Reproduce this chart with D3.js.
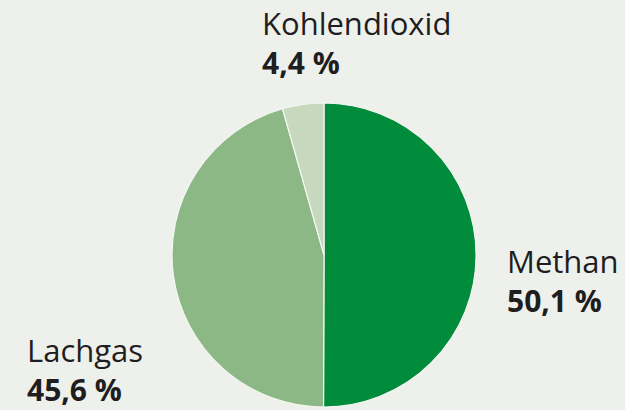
<!DOCTYPE html>
<html>
<head>
<meta charset="utf-8">
<script src="https://cdn.jsdelivr.net/npm/d3@7"></script>
<style>
  html, body { margin: 0; padding: 0; background: #eef0ec; }
  svg { display: block; }
  text { font-family: "Open Sans", "Noto Sans", sans-serif; fill: #1e1e1e; }
</style>
</head>
<body>
<svg id="pieVis" width="625" height="410"></svg>
<script>
// data
const gases = ['Methan', 'Lachgas', 'Kohlendioxid'];
const shares = [50.1, 45.6, 4.4];
const shareLabels = ['50,1 %', '45,6 %', '4,4 %'];
const colors = ['#008c3a', '#8bb884', '#c6d9bf'];

// label anchors (left edge of text, baseline of first line)
const labelPos = {
  'Methan': [507, 273],
  'Lachgas': [27, 362],
  'Kohlendioxid': [262, 35]
};

const svg = d3.select('svg#pieVis');
const cx = 324, cy = 255, radius = 152;

const pie = d3.pie()
    .sort(null)
    .value(d => d.value);

const arc = d3.arc()
    .innerRadius(0)
    .outerRadius(radius);

const data = gases.map((g, i) => ({ name: g, value: shares[i], label: shareLabels[i] }));
const colorScale = d3.scaleOrdinal().domain(gases).range(colors);

const pieG = svg.append('g')
    .attr('transform', `translate(${cx},${cy})`);

pieG.selectAll('path')
    .data(pie(data))
    .enter()
    .append('path')
    .attr('d', arc)
    .attr('fill', d => colorScale(d.data.name))
    .attr('stroke', '#f4f6f2')
    .attr('stroke-width', 1.2);

const labelG = svg.append('g').attr('class', 'labels');

const labels = labelG.selectAll('g')
    .data(data)
    .enter()
    .append('g')
    .attr('transform', d => `translate(${labelPos[d.name][0]},${labelPos[d.name][1]})`);

labels.append('text')
    .attr('class', 'name')
    .style('font-size', '31px')
    .text(d => d.name);

labels.append('text')
    .attr('class', 'value')
    .attr('y', 39)
    .style('font-size', '30px')
    .style('font-weight', 'bold')
    .text(d => d.label);
</script>
</body>
</html>
